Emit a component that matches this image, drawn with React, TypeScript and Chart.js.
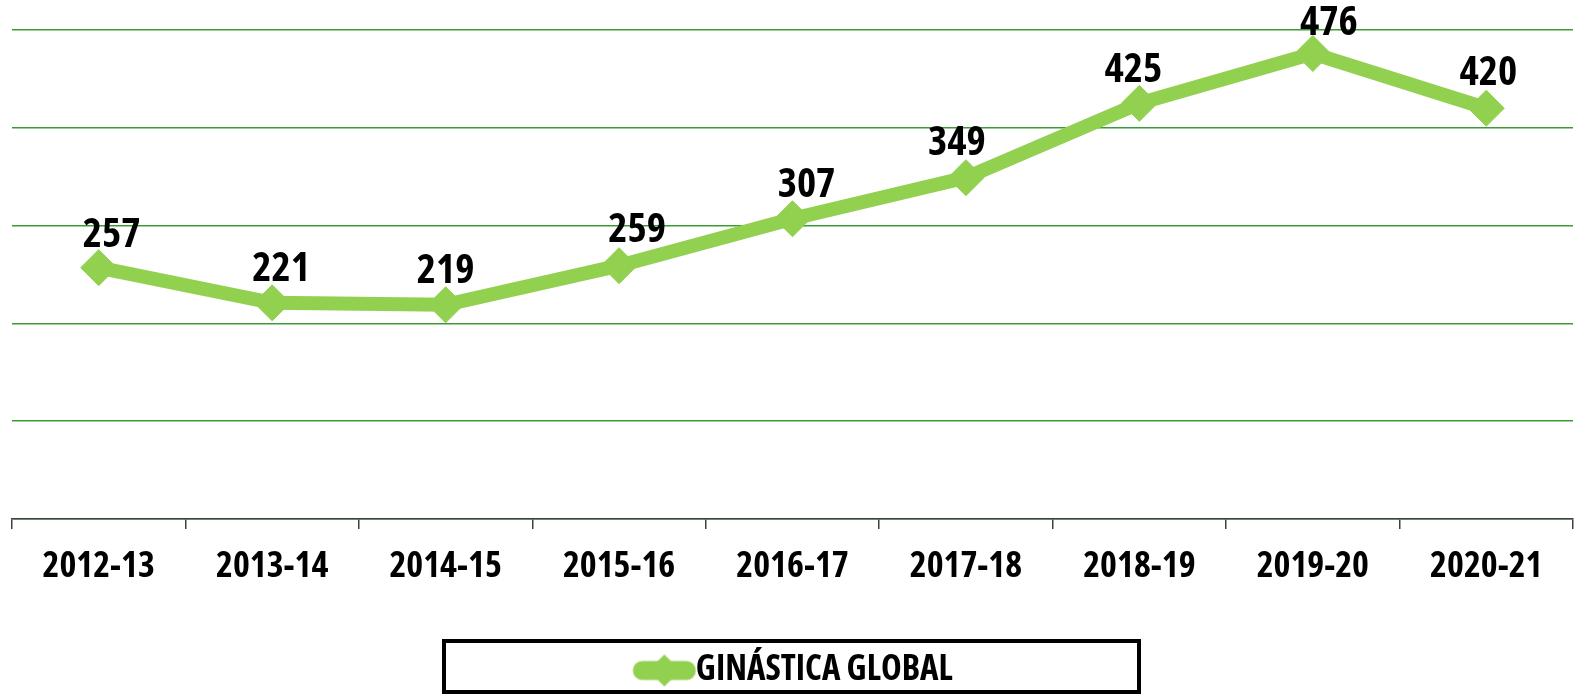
import React, { useEffect, useRef } from "react";
import { Chart, registerables } from "chart.js";

Chart.register(...registerables);

const categories = ["2012-13", "2013-14", "2014-15", "2015-16", "2016-17", "2017-18", "2018-19", "2019-20", "2020-21"];
const seriesName = "GINÁSTICA GLOBAL";
const seriesValues = [257, 221, 219, 259, 307, 349, 425, 476, 420];
const yMin = 0;
const yMax = 500;
const yStep = 100;

// per-label nudges of the value labels (pixels), as placed in the original
const labelShiftX = [13, 9, 0, 18, 14, -9, -6, 16, 2];
const labelLift = [21, 22, 22, 24, 22, 23, 21, 18, 23];

const FAMILY = "'Open Sans', 'DejaVu Sans Condensed', sans-serif";
const WEIGHT = "condensed bold";
const GREEN = "#92d050";

function makeLegendSymbol(): HTMLCanvasElement {
  const c = document.createElement("canvas");
  const pad = 18;
  c.width = 64 + pad;
  c.height = 34;
  const ctx = c.getContext("2d")!;
  ctx.strokeStyle = GREEN;
  ctx.lineWidth = 19;
  ctx.lineCap = "round";
  ctx.beginPath();
  ctx.moveTo(pad + 10, 17);
  ctx.lineTo(pad + 54, 17);
  ctx.stroke();
  ctx.fillStyle = GREEN;
  ctx.beginPath();
  ctx.moveTo(pad + 32 - 16, 17);
  ctx.lineTo(pad + 32, 1);
  ctx.lineTo(pad + 32 + 16, 17);
  ctx.lineTo(pad + 32, 33);
  ctx.closePath();
  ctx.fill();
  return c;
}

const dataLabelPlugin = {
  id: "dataLabels",
  afterDatasetsDraw(chart: any) {
    const ctx = chart.ctx;
    chart.data.datasets.forEach((ds: any, di: number) => {
      const meta = chart.getDatasetMeta(di);
      meta.data.forEach((pt: any, i: number) => {
        ctx.save();
        ctx.font = `${WEIGHT} 41px ${FAMILY}`;
        ctx.fillStyle = "#000";
        ctx.textAlign = "center";
        ctx.textBaseline = "alphabetic";
        ctx.fillText(String(ds.data[i]), pt.x + (labelShiftX[i] || 0), pt.y - (labelLift[i] ?? 22));
        ctx.restore();
      });
    });
  },
};

const legendBoxPlugin = {
  id: "legendBox",
  afterDraw(chart: any) {
    const lg = chart.legend;
    if (!lg) return;
    const ctx = chart.ctx;
    const w = 695;
    const cx = chart.width / 2;
    const top = lg.top - 2;
    const bottom = chart.height - 3;
    ctx.save();
    ctx.strokeStyle = "#000";
    ctx.lineWidth = 4;
    ctx.strokeRect(cx - w / 2, top, w, bottom - top);
    ctx.restore();
  },
};

export default function App() {
  const ref = useRef<HTMLCanvasElement | null>(null);
  useEffect(() => {
    if (!ref.current) return;
    const symbol = makeLegendSymbol();
    const chart = new Chart(ref.current, {
      type: "line",
      data: {
        labels: categories,
        datasets: [
          {
            label: seriesName,
            data: seriesValues,
            borderColor: GREEN,
            backgroundColor: GREEN,
            borderWidth: 14,
            pointStyle: "rectRot",
            pointRadius: 18,
            pointBorderWidth: 1,
            pointBackgroundColor: GREEN,
            pointBorderColor: GREEN,
            tension: 0,
          },
        ],
      },
      options: {
        animation: false,
        responsive: true,
        maintainAspectRatio: false,
        layout: { autoPadding: false, padding: { top: 30, left: 12, right: 10, bottom: -3 } },
        scales: {
          x: {
            offset: true,
            grid: {
              offset: true,
              drawOnChartArea: false,
              drawTicks: true,
              tickLength: 10,
              color: "#404040",
              lineWidth: 1.5,
            },
            border: { display: true, color: "#404040", width: 1.5 },
            ticks: {
              font: { family: FAMILY, size: 36, weight: WEIGHT as any },
              color: "#000",
              padding: 16,
              maxRotation: 0,
              autoSkip: false,
            },
            afterFit: (s: any) => {
              s.height = 124;
            },
          },
          y: {
            min: yMin,
            max: yMax,
            ticks: { stepSize: yStep, display: false },
            grid: { color: "#3d9b35", lineWidth: 1.5, drawTicks: false },
            border: { display: false },
            afterFit: (s: any) => {
              s.width = 0;
            },
          },
        },
        plugins: {
          legend: {
            display: true,
            position: "bottom",
            labels: {
              usePointStyle: true,
              pointStyle: symbol as any,
              pointStyleWidth: 46,
              boxHeight: 35,
              padding: 10,
              color: "#000",
              font: { family: FAMILY, size: 35, weight: WEIGHT as any },
            },
          },
          tooltip: { enabled: false },
        },
      },
      plugins: [dataLabelPlugin, legendBoxPlugin],
    });
    return () => chart.destroy();
  }, []);
  return (
    <div style={{ position: "absolute", left: 0, top: 0, width: 1583, height: 695 }}>
      <canvas ref={ref} />
    </div>
  );
}
